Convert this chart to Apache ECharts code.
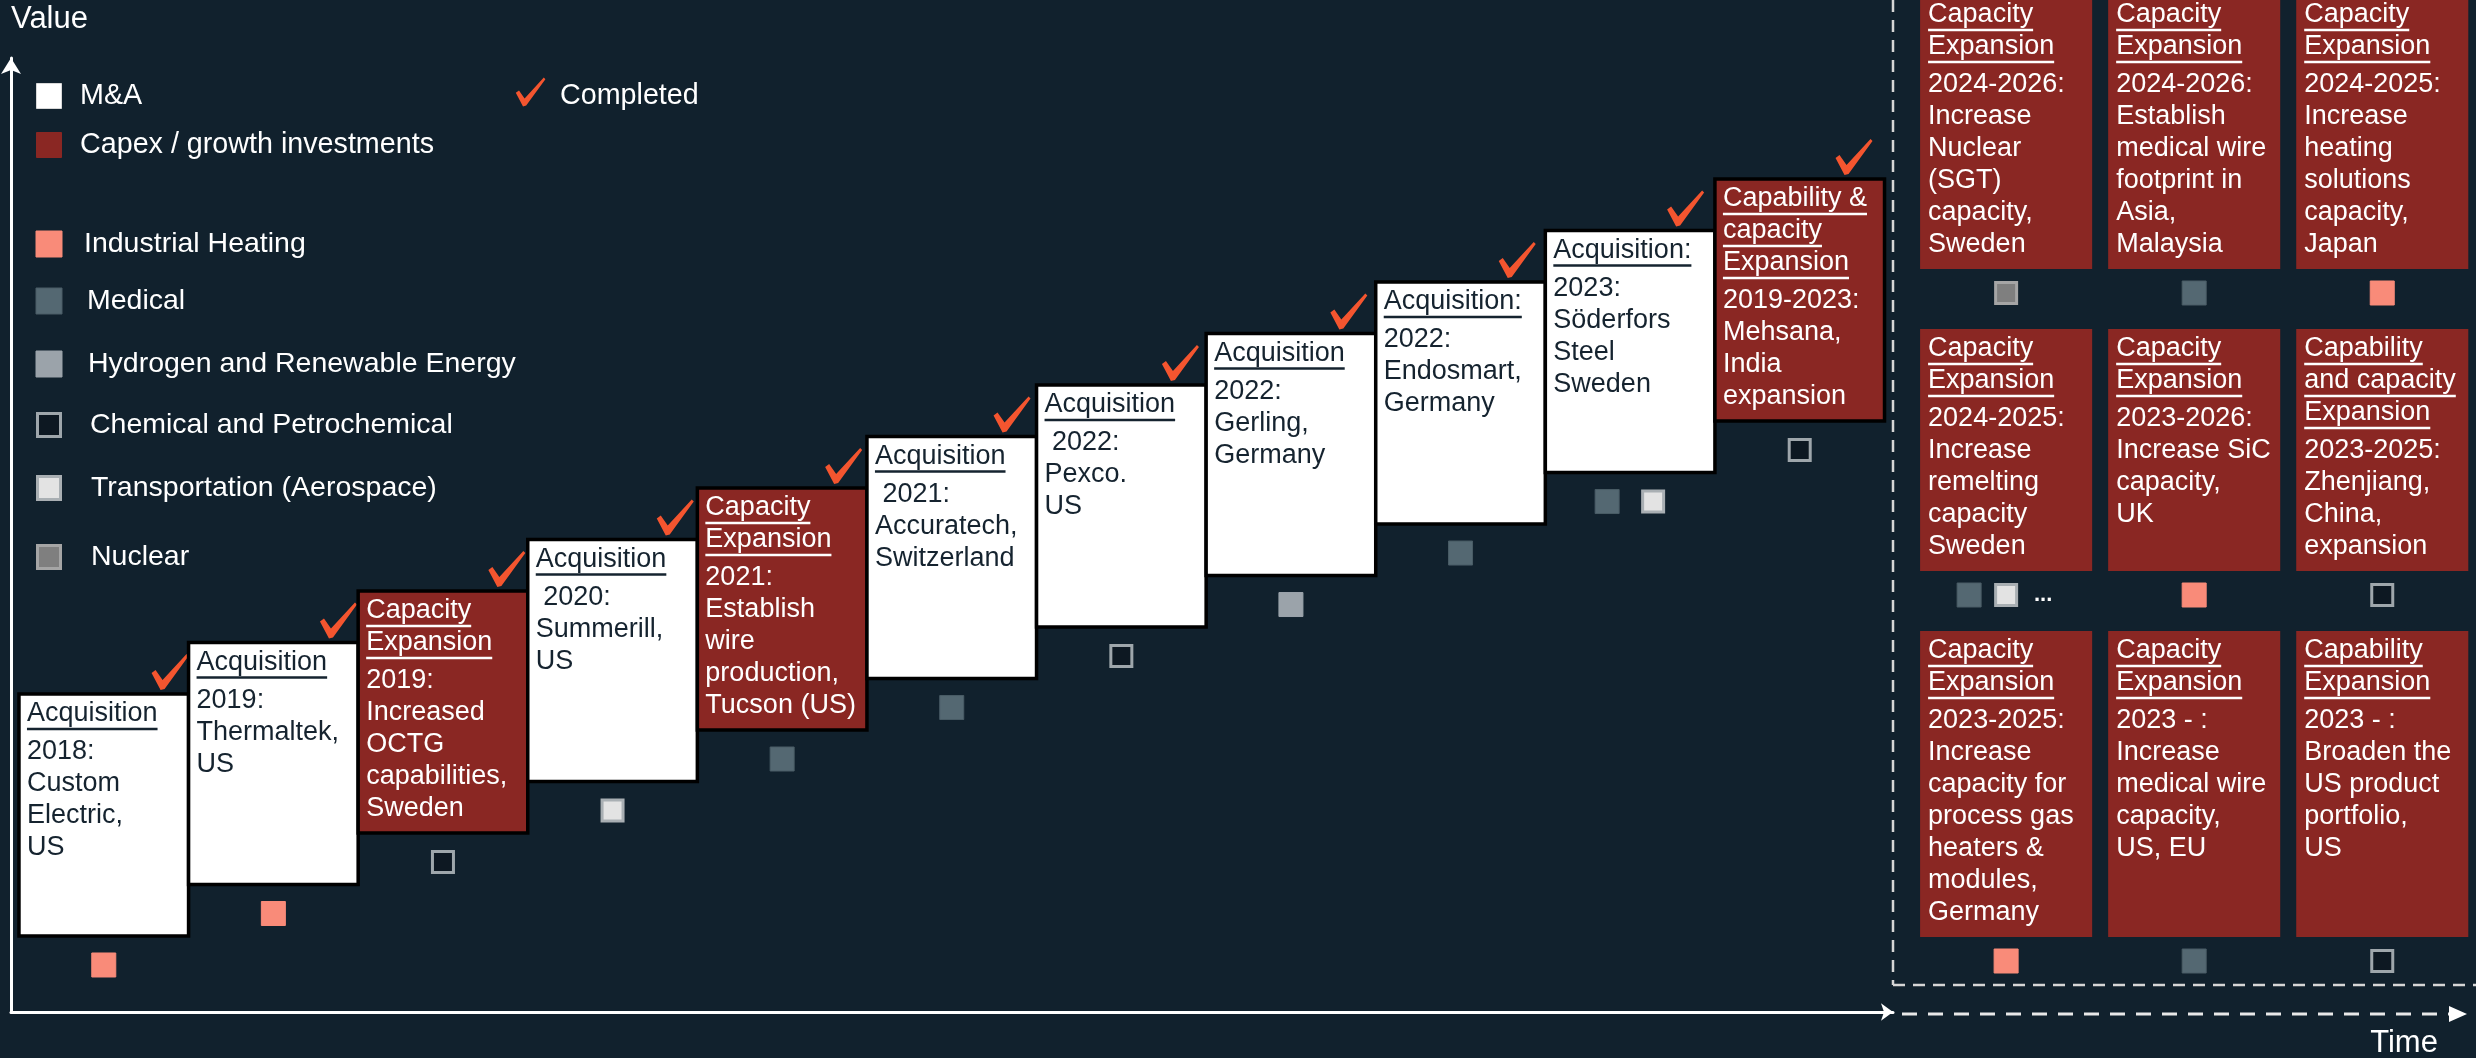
<!DOCTYPE html>
<html>
<head>
<meta charset='utf-8' />
<title></title>
<style>
html, body { margin: 0; padding: 0; background: #11212d; }
#chart { width: 2476px; height: 1058px; }
</style>
</head>
<body>
<div id="chart"></div>
<script src="https://cdn.jsdelivr.net/npm/echarts@6/dist/echarts.min.js"></script>
<script>
// ---- data: completed steps (staircase) ----
var stepValues = [1, 2, 3, 4, 5, 6, 7, 8, 9, 10, 11];
var stepKinds = ['ma', 'ma', 'capex', 'ma', 'capex', 'ma', 'ma', 'ma', 'ma', 'ma', 'capex'];
var stepHeads = [
  ['Acquisition'], ['Acquisition'], ['Capacity', 'Expansion'], ['Acquisition'],
  ['Capacity', 'Expansion'], ['Acquisition'], ['Acquisition'], ['Acquisition'],
  ['Acquisition:'], ['Acquisition:'], ['Capability &', 'capacity', 'Expansion']
];
var stepYears = ['2018:', '2019:', '2019:', ' 2020:', '2021:', ' 2021:', ' 2022:', '2022:', '2022:', '2023:', '2019-2023:'];
var stepBodies = [
  ['Custom', 'Electric,', 'US'], ['Thermaltek,', 'US'], ['Increased', 'OCTG', 'capabilities,', 'Sweden'],
  ['Summerill,', 'US'], ['Establish', 'wire', 'production,', 'Tucson (US)'], ['Accuratech,', 'Switzerland'],
  ['Pexco.', 'US'], ['Gerling,', 'Germany'], ['Endosmart,', 'Germany'], ['Söderfors', 'Steel', 'Sweden'],
  ['Mehsana,', 'India', 'expansion']
];
var stepSegments = [['ih'], ['ih'], ['cp'], ['ta'], ['med'], ['med'], ['cp'], ['h2'], ['med'], ['med', 'ta'], ['cp']];

// ---- data: ongoing / planned projects (right panel) ----
var planCols = [0, 1, 2, 0, 1, 2, 0, 1, 2];
var planRows = [0, 0, 0, 1, 1, 1, 2, 2, 2];
var planHeads = [
  ['Capacity', 'Expansion'], ['Capacity', 'Expansion'], ['Capacity', 'Expansion'],
  ['Capacity', 'Expansion'], ['Capacity', 'Expansion'], ['Capability', 'and capacity', 'Expansion'],
  ['Capacity', 'Expansion'], ['Capacity', 'Expansion'], ['Capability', 'Expansion']
];
var planYears = ['2024-2026:', '2024-2026:', '2024-2025:', '2024-2025:', '2023-2026:', '2023-2025:', '2023-2025:', '2023 - :', '2023 - :'];
var planBodies = [
  ['Increase', 'Nuclear', '(SGT)', 'capacity,', 'Sweden'],
  ['Establish', 'medical wire', 'footprint in', 'Asia,', 'Malaysia'],
  ['Increase', 'heating', 'solutions', 'capacity,', 'Japan'],
  ['Increase', 'remelting', 'capacity', 'Sweden'],
  ['Increase SiC', 'capacity,', 'UK'],
  ['Zhenjiang,', 'China,', 'expansion'],
  ['Increase', 'capacity for', 'process gas', 'heaters &', 'modules,', 'Germany'],
  ['Increase', 'medical wire', 'capacity,', 'US, EU'],
  ['Broaden the', 'US product', 'portfolio,', 'US']
];
var planSegments = [['nu'], ['med'], ['ih'], ['med', 'ta', 'more'], ['ih'], ['cp'], ['ih'], ['med'], ['cp']];

// ---- legend ----
var kindCodes = ['ma', 'capex'];
var kindNames = ['M&A', 'Capex / growth investments'];
var segmentCodes = ['ih', 'med', 'h2', 'cp', 'ta', 'nu'];
var segmentNames = ['Industrial Heating', 'Medical', 'Hydrogen and Renewable Energy', 'Chemical and Petrochemical', 'Transportation (Aerospace)', 'Nuclear'];

// ---- styles ----
var FONT = '"Liberation Sans", Arial, sans-serif';
var RED = '#8a2723';
var INK = '#15232f';
var CHECK = '#f4552f';
var CARD_H = 242;
var PLAN_W = 0.915;
var PLAN_GAP = 60;
var swatch = {
  ma:    { fill: '#ffffff', stroke: '#d8d8d8', lw: 1 },
  capex: { fill: RED, stroke: RED, lw: 1 },
  ih:    { fill: '#f98b79', stroke: '#f98b79', lw: 1 },
  med:   { fill: '#546872', stroke: '#4a5c66', lw: 1 },
  h2:    { fill: '#9ba3aa', stroke: '#9ba3aa', lw: 1 },
  cp:    { fill: '#0d1822', stroke: '#9ea6ab', lw: 3 },
  ta:    { fill: '#e3e3e3', stroke: '#a9afb3', lw: 3 },
  nu:    { fill: '#7f7f7f', stroke: '#a5a5a5', lw: 3 }
};

var measureCtx = document.createElement('canvas').getContext('2d');
function textWidth(s, size) {
  measureCtx.font = size + 'px ' + FONT;
  return measureCtx.measureText(s).width;
}

function square(cx, cy, size, code) {
  var st = swatch[code];
  var s = size - (st.lw > 1 ? st.lw : 0);
  return {
    type: 'rect',
    shape: { x: cx - s / 2, y: cy - s / 2, width: s, height: s },
    style: { fill: st.fill, stroke: st.stroke, lineWidth: st.lw }
  };
}

// hand-drawn style tick mark
function checkShape(cx, cy, k) {
  var pts = [[-19, 1], [-15, -2], [-8, 8], [16, -18], [18, -16], [-6, 17], [-10, 18]];
  return {
    type: 'polygon',
    shape: { points: pts.map(function (p) { return [cx + p[0] * k, cy + p[1] * k]; }) },
    style: { fill: CHECK }
  };
}

function drawCard(x, top, w, h, red, heads, year, body, border) {
  var color = red ? '#ffffff' : INK;
  var out = [{
    type: 'rect',
    shape: { x: x, y: top, width: w, height: h },
    style: { fill: red ? RED : '#ffffff', stroke: border ? '#000000' : null, lineWidth: border ? 3.5 : 0 }
  }];
  var ly = top + 20;
  heads.forEach(function (t) {
    out.push({ type: 'text', x: x + 8, y: ly, style: { text: t, fill: color, font: '27px ' + FONT, verticalAlign: 'middle' } });
    var tw = textWidth(t, 27);
    out.push({ type: 'line', shape: { x1: x + 8, y1: ly + 15, x2: x + 8 + tw, y2: ly + 15 }, style: { stroke: color, lineWidth: 2.5 } });
    ly += 32;
  });
  ly += 6;
  [year].concat(body).forEach(function (t) {
    out.push({ type: 'text', x: x + 8, y: ly, style: { text: t, fill: color, font: '27px ' + FONT, verticalAlign: 'middle' } });
    ly += 32;
  });
  return out;
}

function drawMarkers(cx, cy, codes, gap) {
  var out = [];
  var n = codes.length;
  codes.forEach(function (c, k) {
    var mx = cx + (k - (n - 1) / 2) * gap;
    if (c === 'more') {
      out.push({ type: 'text', x: mx, y: cy, style: { text: '...', fill: '#ffffff', font: 'bold 22px ' + FONT, align: 'center', verticalAlign: 'middle' } });
    } else {
      out.push(square(mx, cy, 24, c));
    }
  });
  return out;
}

function lineCount(i) {
  return planHeads[i].length + 1 + planBodies[i].length;
}
function rowHeight(r) {
  var n = 0;
  planRows.forEach(function (row, i) { if (row === r) n = Math.max(n, lineCount(i)); });
  return Math.max(CARD_H, 32 * n + 18);
}

function renderStep(params, api) {
  var i = params.dataIndex;
  var bl = api.coord([api.value(0), api.value(1)]);
  var w = api.size([1, 0])[0];
  var x = bl[0], top = bl[1] - CARD_H;
  var kids = drawCard(x, top, w, CARD_H, stepKinds[i] === 'capex', stepHeads[i], stepYears[i], stepBodies[i], true);
  kids = kids.concat(drawMarkers(x + w / 2, bl[1] + 29, stepSegments[i], 46));
  kids.push(checkShape(x + w - 18 - 1.2 * i, top - 22, 1));
  return { type: 'group', children: kids };
}

function renderPlan(params, api) {
  var i = params.dataIndex;
  var row = api.value(1);
  var p = api.coord([api.value(0), 0]);
  var w = api.size([PLAN_W, 0])[0];
  var top = p[1];
  for (var r = 0; r < row; r++) top += rowHeight(r) + PLAN_GAP;
  var h = rowHeight(row);
  var kids = drawCard(p[0], top, w, h, true, planHeads[i], planYears[i], planBodies[i], false);
  kids = kids.concat(drawMarkers(p[0] + w / 2, top + h + 24, planSegments[i], 37));
  return { type: 'group', children: kids };
}

// legend + decorations
var graphics = [];
var kindY = [96, 145];
kindCodes.forEach(function (c, k) {
  graphics.push(square(49, kindY[k], 25, c));
  graphics.push({ type: 'text', x: 80, y: kindY[k], style: { text: kindNames[k], fill: '#ffffff', font: '28.7px ' + FONT, verticalAlign: 'middle' } });
});
graphics.push(checkShape(531, 92, 0.8));
graphics.push({ type: 'text', x: 560, y: 96, style: { text: 'Completed', fill: '#ffffff', font: '28.7px ' + FONT, verticalAlign: 'middle' } });
var segY = [244, 301, 364, 425, 488, 557];
var segX = [84, 87, 88, 90, 91, 91];
segmentCodes.forEach(function (c, k) {
  graphics.push(square(49, segY[k], 26, c));
  graphics.push({ type: 'text', x: segX[k], y: segY[k], style: { text: segmentNames[k], fill: '#ffffff', font: '28.5px ' + FONT, verticalAlign: 'middle' } });
});
// right panel dashed frame
graphics.push({ type: 'line', shape: { x1: 1893, y1: 0, x2: 1893, y2: 985 }, style: { stroke: '#d6d6d6', lineWidth: 2.5, lineDash: [12, 8] } });
graphics.push({ type: 'line', shape: { x1: 1893, y1: 985, x2: 2476, y2: 985 }, style: { stroke: '#d6d6d6', lineWidth: 2.5, lineDash: [12, 8] } });
// dashed time continuation
graphics.push({ type: 'line', shape: { x1: 1902, y1: 1014, x2: 2450, y2: 1014 }, style: { stroke: '#e8e8e8', lineWidth: 3, lineDash: [15, 11] } });
graphics.push({ type: 'polygon', shape: { points: [[2449, 1006], [2467, 1014], [2449, 1022]] }, style: { fill: '#ffffff' } });
graphics.push({ type: 'text', x: 2404, y: 1043, style: { text: 'Time', fill: '#ffffff', font: '31px ' + FONT, align: 'center', verticalAlign: 'middle' } });

var myChart = echarts.init(document.getElementById('chart'));
var option = {
  backgroundColor: '#11212d',
  animation: false,
  grid: [
    { left: 11, top: 58, width: 1882, height: 954, outerBoundsMode: 'none' },
    { left: 1893, top: -5, width: 583, height: 990, outerBoundsMode: 'none' }
  ],
  xAxis: [
    {
      type: 'value', gridIndex: 0, min: -0.047, max: 11.05,
      axisLine: { show: true, onZero: false, symbol: ['none', 'arrow'], symbolSize: [13, 12], lineStyle: { color: '#ffffff', width: 3 } },
      axisTick: { show: false }, axisLabel: { show: false }, splitLine: { show: false }
    },
    { type: 'value', gridIndex: 1, min: -0.144, max: 2.956, show: false }
  ],
  yAxis: [
    {
      type: 'value', gridIndex: 0, min: -0.476, max: 18.05,
      name: 'Value', nameLocation: 'end', nameGap: 39,
      nameTextStyle: { color: '#ffffff', fontSize: 31, fontFamily: FONT, align: 'left', verticalAlign: 'middle' },
      axisLine: { show: true, onZero: false, symbol: ['none', 'arrow'], symbolSize: [15, 16], lineStyle: { color: '#ffffff', width: 3 } },
      axisTick: { show: false }, axisLabel: { show: false }, splitLine: { show: false }
    },
    { type: 'value', gridIndex: 1, min: 0, max: 1, inverse: true, show: false }
  ],
  graphic: graphics,
  series: [
    {
      type: 'custom', xAxisIndex: 0, yAxisIndex: 0, clip: false,
      renderItem: renderStep,
      data: stepValues.map(function (v, i) { return [i, v]; })
    },
    {
      type: 'custom', xAxisIndex: 1, yAxisIndex: 1, clip: false,
      renderItem: renderPlan,
      data: planCols.map(function (c, i) { return [c, planRows[i]]; })
    }
  ]
};
myChart.setOption(option);
</script>
</body>
</html>
